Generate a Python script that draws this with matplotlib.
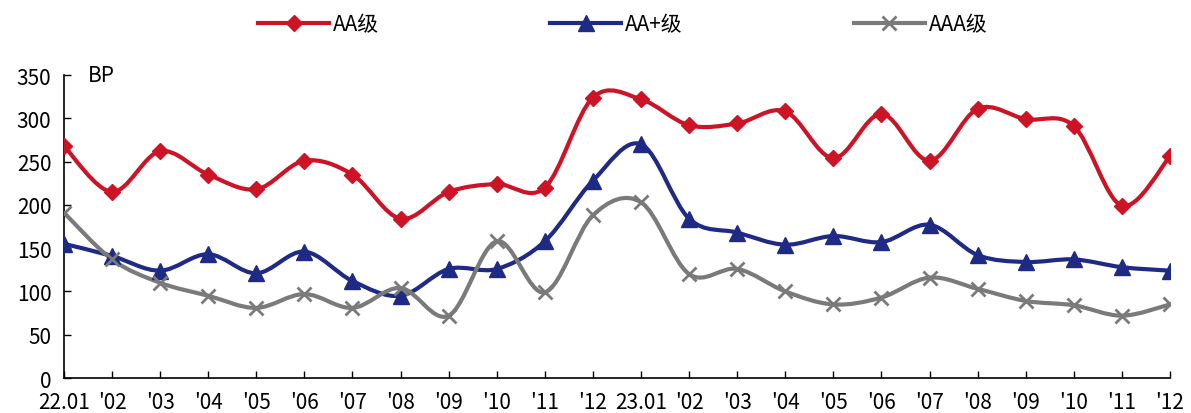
import numpy as np
import matplotlib
matplotlib.use("Agg")
import matplotlib.pyplot as plt
from matplotlib.path import Path
from matplotlib.patches import PathPatch
from matplotlib.lines import Line2D

plt.rcParams["font.family"] = ["Noto Sans CJK SC", "DejaVu Sans"]

# data (BP), monthly 2022.01 - 2023.12
months = ["22.01", "'02", "'03", "'04", "'05", "'06", "'07", "'08", "'09", "'10", "'11", "'12",
          "23.01", "'02", "'03", "'04", "'05", "'06", "'07", "'08", "'09", "'10", "'11", "'12"]
aa = [268, 215, 262, 235, 218, 251, 235, 184, 215, 224, 220, 324,
      322, 292, 294, 308, 254, 305, 251, 311, 299, 291, 199, 256]
aa_plus = [155, 141, 124, 143, 121, 146, 112, 95, 126, 126, 158, 228,
           270, 184, 168, 154, 164, 157, 177, 142, 134, 137, 128, 124]
aaa = [191, 137, 110, 95, 81, 97, 81, 104, 72, 158, 99, 188,
       203, 120, 126, 100, 85, 93, 116, 103, 89, 84, 72, 85]

series = [
    ("AA级", aa, "#CC1426", "D", 8.5),
    ("AA+级", aa_plus, "#1F2A85", "^", 11),
    ("AAA级", aaa, "#7A7A7A", "x", 10),
]


def smooth_path(xs, ys):
    # Catmull-Rom style bezier, like Excel's smoothed line
    pts = np.column_stack([xs, ys]).astype(float)
    n = len(pts)
    verts = [pts[0]]
    codes = [Path.MOVETO]
    for i in range(n - 1):
        p0 = pts[i - 1] if i > 0 else pts[i]
        p1 = pts[i]
        p2 = pts[i + 1]
        p3 = pts[i + 2] if i + 2 < n else pts[i + 1]
        c1 = p1 + (p2 - p0) / 6.0
        c2 = p2 - (p3 - p1) / 6.0
        verts += [c1, c2, p2]
        codes += [Path.CURVE4] * 3
    return Path(verts, codes)


fig = plt.figure(figsize=(11.91, 4.14), dpi=100)
ax = fig.add_axes([0.0537, 0.0845, 0.9287, 0.7319])

x = np.arange(len(months))
handles = []
for name, vals, color, mk, ms in series:
    ax.add_patch(PathPatch(smooth_path(x, vals), facecolor="none", edgecolor=color,
                           lw=3, capstyle="round", joinstyle="round", zorder=2))
    mew = 2 if mk == "x" else 1
    ax.plot(x, vals, linestyle="none", marker=mk, markersize=ms, color=color,
            markeredgewidth=mew, zorder=3)
    handles.append(Line2D([], [], color=color, lw=3, marker=mk, markersize=ms,
                          markeredgewidth=mew, label=name))

ax.set_xlim(0, len(months) - 1)
ax.set_ylim(0, 350)
ax.set_yticks(range(0, 351, 50))
ax.set_xticks(x)
ax.set_xticklabels(months)
ax.tick_params(axis="both", direction="in", length=5, width=1, labelsize=15, colors="black")
ax.tick_params(axis="x", pad=9)
ax.tick_params(axis="y", pad=9)
for s in ["top", "right"]:
    ax.spines[s].set_visible(False)
for s in ["left", "bottom"]:
    ax.spines[s].set_linewidth(1.2)

ax.text(0.022, 350, "BP", fontsize=15, va="center", ha="left",
        transform=ax.get_yaxis_transform())

fig.legend(handles=handles, loc="upper center", ncol=3, frameon=False,
           bbox_to_anchor=(0.523, 1.01), fontsize=15, handlelength=3.4,
           columnspacing=8.2, handletextpad=0.2)

fig.savefig("out.png", dpi=100)
